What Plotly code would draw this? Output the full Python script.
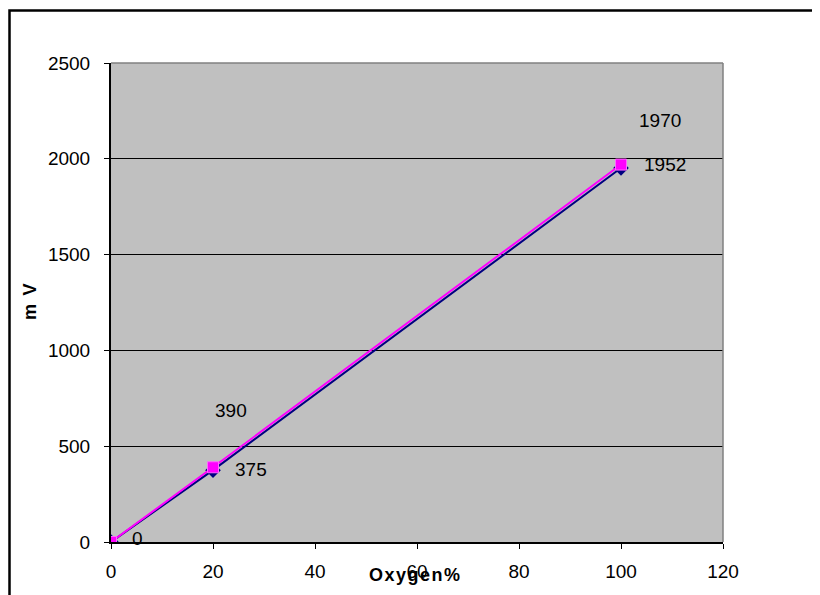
import plotly.graph_objects as go

# data
oxygen = [0, 20, 100]
mv_a = [0, 375, 1952]     # navy diamonds
mv_b = [0, 390, 1970]     # magenta squares

FONT = "Liberation Sans, Arial, sans-serif"

# page pixel -> paper coords (plot area spans x 111..723, y 63..542 on the page)
def px(x):
    return (x - 111) / 612

def py(y):
    return (542 - y) / 479

fig = go.Figure()
fig.add_trace(go.Scatter(x=oxygen, y=mv_a, mode="lines+markers",
                         line=dict(color="#000080", width=2),
                         marker=dict(symbol="diamond", size=12, color="#000080")))
fig.add_trace(go.Scatter(x=oxygen, y=mv_b, mode="lines+markers",
                         line=dict(color="#FF00FF", width=2),
                         marker=dict(symbol="square", size=11, color="#FF00FF",
                                     line=dict(color="#FF66FF", width=1))))

# data labels: series A to the right of the point
shifts_a = [(19, 4), (20, 1), (21, 4)]
for x, y, s in zip(oxygen, mv_a, shifts_a):
    fig.add_annotation(x=x, y=y, text=str(y), showarrow=False, xanchor="left",
                       xshift=s[0], yshift=s[1],
                       font=dict(size=19, color="black", family=FONT))
# series B labels sit above (its 0 label is hidden under series A's)
shifts_b = [None, (0, 57), (16, 44)]
for x, y, s in zip(oxygen, mv_b, shifts_b):
    if s is None:
        continue
    fig.add_annotation(x=x, y=y, text=str(y), showarrow=False, xanchor="left",
                       xshift=s[0], yshift=s[1],
                       font=dict(size=19, color="black", family=FONT))

# axis titles
fig.add_annotation(xref="paper", yref="paper", x=px(30), y=py(302),
                   xanchor="center", yanchor="middle",
                   text="<b>m\u2009 V</b>", textangle=-90, showarrow=False,
                   font=dict(size=18, color="black", family=FONT))
fig.add_annotation(xref="paper", yref="paper", x=px(414), y=py(575),
                   xanchor="center", yanchor="middle",
                   text="<b>O\u200ax\u200ay\u200ag\u200ae\u200an\u200a%</b>", showarrow=False,
                   font=dict(size=18, color="black", family=FONT))

# outer chart frame
fig.add_shape(type="rect", xref="paper", yref="paper",
              x0=px(9.5), x1=2, y0=-1, y1=py(10.5),
              line=dict(color="black", width=2.5), layer="below")

# the page body adds an 8px margin, so the figure is 8px smaller than the window
fig.update_layout(
    width=812, height=587,
    margin=dict(l=103, r=97, t=55, b=53),
    paper_bgcolor="white", plot_bgcolor="#C0C0C0",
    showlegend=False,
    font=dict(family=FONT, size=19, color="black"),
    xaxis=dict(range=[0, 120], dtick=20, showgrid=False, zeroline=False,
               showline=True, linecolor="black", linewidth=2, mirror=False,
               ticks="outside", ticklen=5, tickcolor="black",
               ticklabelstandoff=6),
    yaxis=dict(range=[0, 2500], dtick=500, showgrid=True, gridcolor="black",
               gridwidth=1.2, zeroline=False,
               showline=True, linecolor="black", linewidth=2,
               ticks="outside", ticklen=5, tickcolor="black",
               ticklabelstandoff=10),
)
# grey top/right plot border
fig.add_shape(type="line", xref="paper", yref="paper", x0=0, x1=1, y0=1, y1=1,
              line=dict(color="#808080", width=1.5))
fig.add_shape(type="line", xref="paper", yref="paper", x0=1, x1=1, y0=0, y1=1,
              line=dict(color="#808080", width=1.5))

fig.write_html("out.html")
